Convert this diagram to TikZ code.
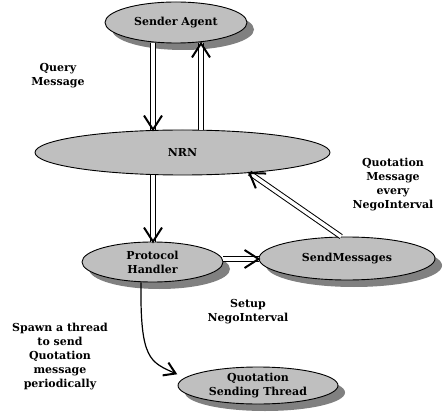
\documentclass[tikz,border=0pt]{standalone}
\usepackage{fontspec}
\setmainfont{DejaVu Serif}
\usetikzlibrary{shapes.geometric,shadows,calc}
\newcommand\myhead[4]{%
  \coordinate (hp) at ($(#2)!#3!(#1)$);
  \draw[headline] ($(hp)!#4!90:(#2)$) -- (#2) -- ($(hp)!#4!-90:(#2)$);}
\begin{document}
\begin{tikzpicture}[x=1pt,y=-1pt,
  every node/.style={font=\fontsize{11}{14}\selectfont\bfseries},
  ell/.style={ellipse,draw=black,line width=0.9pt,fill=black!25,inner sep=0pt,align=center},
  shd/.style={drop shadow={shadow xshift=7pt,shadow yshift=-7pt,fill=black!50,opacity=1}},
  lbl/.style={align=center,inner sep=0pt},
  dbl/.style={draw=black,line width=1pt,double=white,double distance=3.5pt},
  headline/.style={draw=black,line width=2pt,line join=miter,line cap=butt},
  crv/.style={draw=black,line width=1.2pt}]
\useasboundingbox[fill=white] (0,0) rectangle (446,419);

\node[ell,shd,minimum width=142pt,minimum height=41pt] (sa) at (176,22.5) {Sender Agent};
\node[ell,minimum width=295pt,minimum height=45pt] (nrn) at (182.5,152.5) {NRN};
\node[ell,shd,minimum width=141pt,minimum height=40pt] (ph) at (152.5,262) {Protocol\\Handler};
\node[ell,shd,minimum width=176pt,minimum height=43pt] (sm) at (347,258.5) {SendMessages};
\node[ell,shd,minimum width=160pt,minimum height=37pt] (qst) at (258,385.5) {Quotation\\Sending Thread};

\node[lbl] (lq) at (58,76) {Query\\Message};
\node[lbl] (lqm) at (393,184.5) {Quotation\\Message\\every\\NegoInterval};
\node[lbl] (ls) at (248,312) {Setup\\NegoInterval};
\node[lbl] (lsp) at (60,356.5) {Spawn a thread\\to send\\Quotation\\message\\periodically};

% connector end points
\coordinate (a1) at (sa.south -| 153,0);
\coordinate (a2) at (nrn.north -| 153,0);
\coordinate (b1) at (nrn.north -| 201,0);
\coordinate (b2) at (sa.south -| 201,0);
\coordinate (c1) at (nrn.south -| 153,0);
\coordinate (c2) at (ph.north -| 153,0);
\coordinate (d1) at (ph.east |- 0,259);
\coordinate (d2) at (sm.west |- 0,259);
\coordinate (e1) at (sm.105);
\coordinate (e2) at (nrn.-17);
\coordinate (f1) at (ph.south -| 141,0);
\coordinate (fa) at (140,360);
\coordinate (fb) at (150,362);
\coordinate (f2) at ($(qst.west)+(-2,-12)$);

\draw[dbl] (a1) -- (a2);
\myhead{a1}{a2}{14pt}{9pt}
\draw[dbl] (b1) -- (b2);
\myhead{b1}{b2}{14pt}{9pt}
\draw[dbl] (c1) -- (c2);
\myhead{c1}{c2}{14pt}{9pt}
\draw[dbl] (d1) -- (d2);
\myhead{d1}{d2}{14pt}{9pt}
\draw[dbl] (e1) -- (e2);
\myhead{e1}{e2}{14pt}{9pt}
\draw[crv] (f1) .. controls (fa) and (fb) .. (f2);
\myhead{fb}{f2}{11pt}{7pt}
\end{tikzpicture}
\end{document}
